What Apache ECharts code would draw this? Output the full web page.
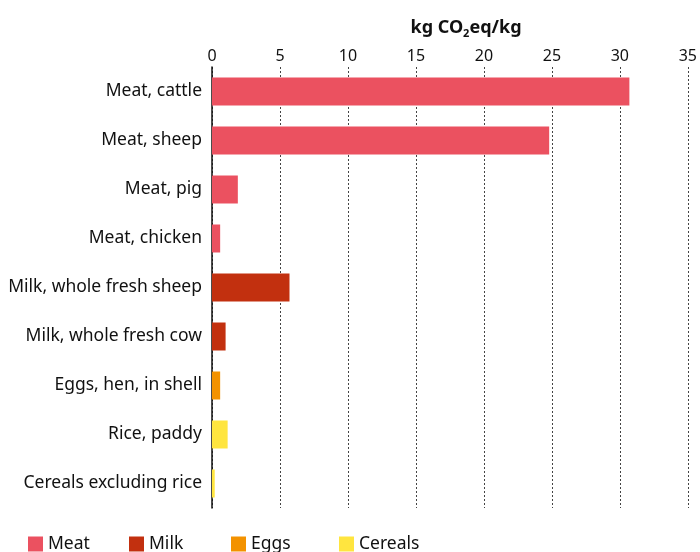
<!DOCTYPE html>
<html><head><meta charset="utf-8">
<script src="https://cdn.jsdelivr.net/npm/echarts@6/dist/echarts.min.js"></script>
<style>html,body{margin:0;padding:0;background:#fff}#c{width:700px;height:552px}</style>
</head><body><div id="c"></div>
<script>
var categories = ["Meat, cattle","Meat, sheep","Meat, pig","Meat, chicken","Milk, whole fresh sheep","Milk, whole fresh cow","Eggs, hen, in shell","Rice, paddy","Cereals excluding rice"];
var meat    = [30.7, 24.8, 1.9, 0.6, '-', '-', '-', '-', '-'];
var milk    = ['-', '-', '-', '-', 5.7, 1.0, '-', '-', '-'];
var eggs    = ['-', '-', '-', '-', '-', '-', 0.6, '-', '-'];
var cereals = ['-', '-', '-', '-', '-', '-', '-', 1.15, 0.2];
var groupNames = ["Meat","Milk","Eggs","Cereals"];
var colors = ["#EB5160","#C2300F","#F39200","#FFE53F"];
var legendLefts = [23, 124, 226, 334];
var font = "Noto Sans";
var chart = echarts.init(document.getElementById('c'));
var dataSets = [meat, milk, eggs, cereals];
var series = groupNames.map(function(n,i){
  return {name:n, type:'bar', stack:'all', data:dataSets[i], barWidth:28,
    itemStyle:{color:colors[i]}};
});
var legends = groupNames.map(function(n,i){
  return {bottom:-6, left:legendLefts[i], itemWidth:15, itemHeight:15, icon:'rect', itemGap:0,
    textStyle:{fontFamily:font,fontSize:17.5,color:'#111'}, data:[n]};
});
chart.setOption({
  animation:false,
  textStyle:{fontFamily:font},
  title:{left:461, top:12, textAlign:'center',
    text:'{a|kg CO}{s|2}{a|eq/kg}',
    textStyle:{rich:{a:{fontFamily:font,fontSize:18,fontWeight:'bold',color:'#111'},
                     s:{fontFamily:font,fontSize:11,fontWeight:'bold',color:'#111',padding:[11,0,0,0]}}}},
  legend:legends,
  grid:{left:212, right:11, top:67, bottom:44, containLabel:false},
  xAxis:{type:'value', position:'top', min:0, max:35, interval:5,
    axisLine:{show:false}, axisTick:{show:false},
    axisLabel:{fontFamily:font,fontSize:16,color:'#111',margin:3},
    splitLine:{show:true, lineStyle:{color:'#444', type:[2,2], width:1}}},
  yAxis:{type:'category', inverse:true, data:categories,
    axisLine:{show:true, lineStyle:{color:'#111', width:1.5}}, axisTick:{show:false},
    axisLabel:{fontFamily:font,fontSize:17.5,color:'#111',margin:10}},
  series:series
});
</script></body></html>
